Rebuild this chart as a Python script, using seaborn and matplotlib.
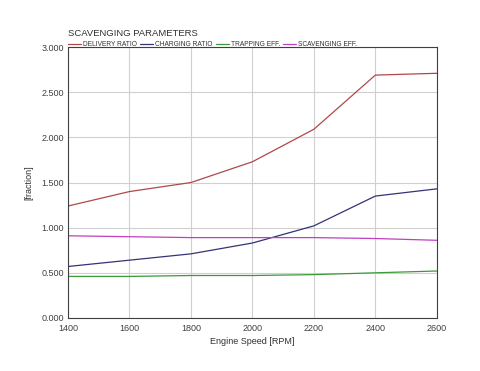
import matplotlib
matplotlib.use("Agg")
import matplotlib.pyplot as plt
import seaborn as sns
import pandas as pd
from matplotlib.ticker import FormatStrFormatter

rpm = [1400, 1600, 1800, 2000, 2200, 2400, 2600]
delivery_ratio = [1.24, 1.40, 1.50, 1.73, 2.09, 2.69, 2.71]
charging_ratio = [0.57, 0.64, 0.71, 0.83, 1.02, 1.35, 1.43]
trapping_eff = [0.46, 0.46, 0.47, 0.47, 0.48, 0.50, 0.52]
scavenging_eff = [0.91, 0.90, 0.89, 0.89, 0.89, 0.88, 0.86]
series_names = ["DELIVERY RATIO", "CHARGING RATIO", "TRAPPING EFF.", "SCAVENGING EFF."]
colors = ["#b04848", "#333377", "#3a9a3a", "#c040c0"]

df = pd.DataFrame({"rpm": rpm * 4,
                   "value": delivery_ratio + charging_ratio + trapping_eff + scavenging_eff,
                   "series": sum([[n] * len(rpm) for n in series_names], [])})

sns.set_style("white")
plt.rcParams['font.family'] = ['Liberation Sans', 'DejaVu Sans']
fig = plt.figure(figsize=(4.8, 3.71), dpi=100)
ax = fig.add_axes([0.1417, 0.143, 0.7683, 0.730])
sns.lineplot(data=df, x="rpm", y="value", hue="series", palette=colors,
             hue_order=series_names, ax=ax, linewidth=0.9)
ax.set_xlim(1400, 2600)
ax.set_ylim(0, 3)
ax.set_xticks(rpm)
ax.set_yticks([0, 0.5, 1.0, 1.5, 2.0, 2.5, 3.0])
ax.yaxis.set_major_formatter(FormatStrFormatter('%.3f'))
ax.grid(True, color="#d0d0d0", linewidth=0.8)
for s in ax.spines.values():
    s.set_color("#404040")
    s.set_linewidth(0.8)
ax.tick_params(labelsize=6.5, colors="#404040", length=0)
ax.tick_params(axis="y", pad=3)
ax.tick_params(axis="x", pad=4)
ax.set_xlabel("Engine Speed [RPM]", fontsize=6.5, color="#303030", labelpad=3)
ax.set_ylabel("[fraction]", fontsize=6.5, color="#303030", labelpad=6)
fig.text(0.1417, 0.898, "SCAVENGING PARAMETERS", fontsize=6.8, color="#303030", va="bottom")
leg = ax.legend(loc="lower left", bbox_to_anchor=(0.0, 0.997), ncol=4, frameon=False,
                fontsize=4.8, handlelength=2.0, handletextpad=0.3, columnspacing=0.4,
                borderaxespad=0, borderpad=0)
for t in leg.get_texts():
    t.set_color("#303030")
fig.savefig("out.png", dpi=100)
